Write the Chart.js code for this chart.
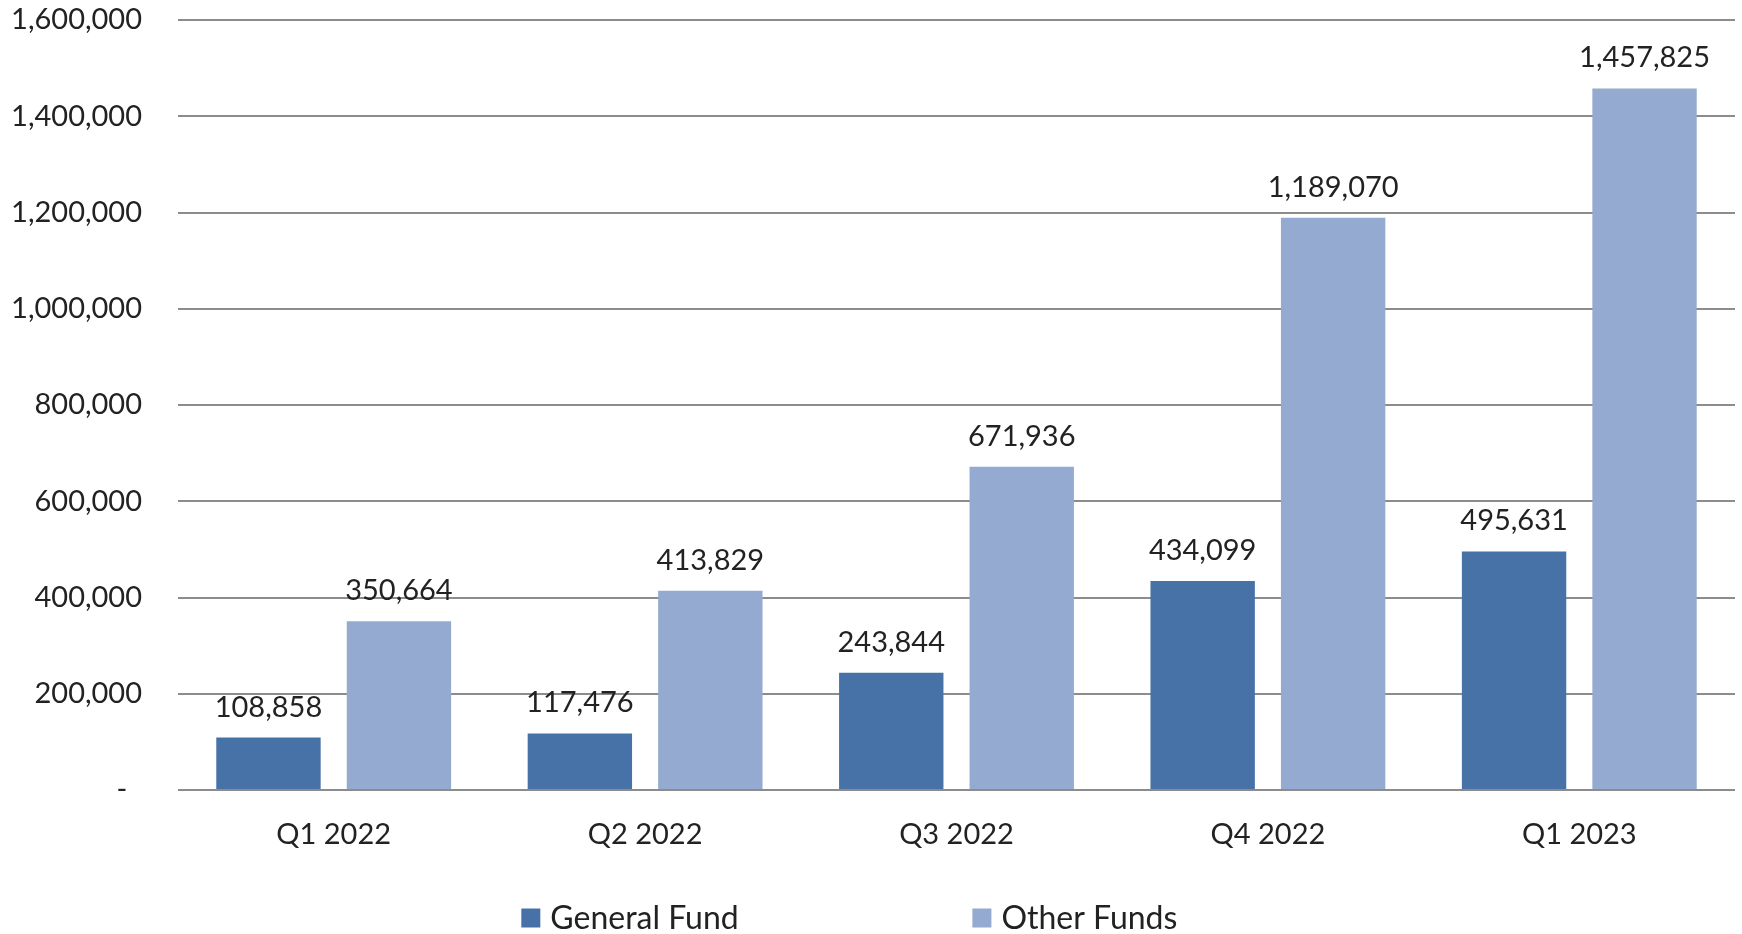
<!DOCTYPE html>
<html>
<head>
<meta charset="utf-8">
<script src="https://cdn.jsdelivr.net/npm/chart.js@4"></script>
<style>
  html, body { margin: 0; padding: 0; background: #fff; }
  #wrap { width: 1742px; height: 934px; }
</style>
</head>
<body>
<div id="wrap"><canvas id="myChart" width="1742" height="934"></canvas></div>
<script>
var quarters = ['Q1 2022', 'Q2 2022', 'Q3 2022', 'Q4 2022', 'Q1 2023'];
var generalFund = [108858, 117476, 243844, 434099, 495631];
var otherFunds = [350664, 413829, 671936, 1189070, 1457825];
var seriesNames = ['General Fund', 'Other Funds'];
var seriesColors = ['#4672a8', '#95aad0'];

var FONT = 'Lato, "Liberation Sans", sans-serif';
var TEXT = '#222222';

function fmt(v) {
  if (v === 0) return '-  ';
  return v.toLocaleString('en-US');
}

// value labels above each bar
var valueLabels = {
  id: 'valueLabels',
  afterDatasetsDraw: function(chart) {
    var ctx = chart.ctx;
    ctx.save();
    ctx.font = '29px ' + FONT;
    ctx.fillStyle = TEXT;
    ctx.textAlign = 'center';
    ctx.textBaseline = 'alphabetic';
    chart.data.datasets.forEach(function(ds, i) {
      chart.getDatasetMeta(i).data.forEach(function(bar, j) {
        ctx.fillText(fmt(ds.data[j]), bar.x, bar.y - 21);
      });
    });
    ctx.restore();
  }
};

// legend drawn under the axis, spaced like the original
var bottomLegend = {
  id: 'bottomLegend',
  afterDraw: function(chart) {
    var ctx = chart.ctx;
    var area = chart.chartArea;
    var box = 19;
    var startX = area.left + (area.right - area.left) * 0.2205;
    var step = (area.right - area.left) * 0.2897;
    var y = 918;
    ctx.save();
    ctx.font = '32px ' + FONT;
    ctx.textBaseline = 'middle';
    ctx.textAlign = 'left';
    chart.data.datasets.forEach(function(ds, i) {
      var x = startX + i * step;
      ctx.fillStyle = ds.backgroundColor;
      ctx.fillRect(x, y - box / 2, box, box);
      ctx.fillStyle = TEXT;
      ctx.fillText(ds.label, x + box + 10, y + 1);
    });
    ctx.restore();
  }
};

var ctx = document.getElementById('myChart').getContext('2d');
var myChart = new Chart(ctx, {
  type: 'bar',
  data: {
    labels: quarters,
    datasets: [{
      label: seriesNames[0],
      data: generalFund,
      backgroundColor: seriesColors[0],
      barPercentage: 0.8,
      categoryPercentage: 0.838
    }, {
      label: seriesNames[1],
      data: otherFunds,
      backgroundColor: seriesColors[1],
      barPercentage: 0.8,
      categoryPercentage: 0.838
    }]
  },
  options: {
    responsive: false,
    animation: false,
    layout: { padding: { top: 20, right: 7, left: 0, bottom: 0 } },
    plugins: {
      legend: { display: false },
      tooltip: { enabled: false }
    },
    scales: {
      x: {
        grid: { display: false, drawTicks: false },
        border: { display: false },
        ticks: { color: TEXT, font: { family: FONT, size: 29 }, padding: 27 },
        afterFit: function(s) { s.height = 144; }
      },
      y: {
        min: 0,
        max: 1600000,
        grid: { color: '#8c8c8c', lineWidth: 2, drawTicks: false },
        border: { display: false },
        ticks: {
          stepSize: 200000,
          color: TEXT,
          font: { family: FONT, size: 29 },
          padding: 36,
          callback: function(v) { return fmt(v); }
        },
        afterFit: function(s) {
          s.width = 178;
          s.paddingTop = 0;
          s.paddingBottom = 0;
        }
      }
    }
  },
  plugins: [valueLabels, bottomLegend]
});
</script>
</body>
</html>
